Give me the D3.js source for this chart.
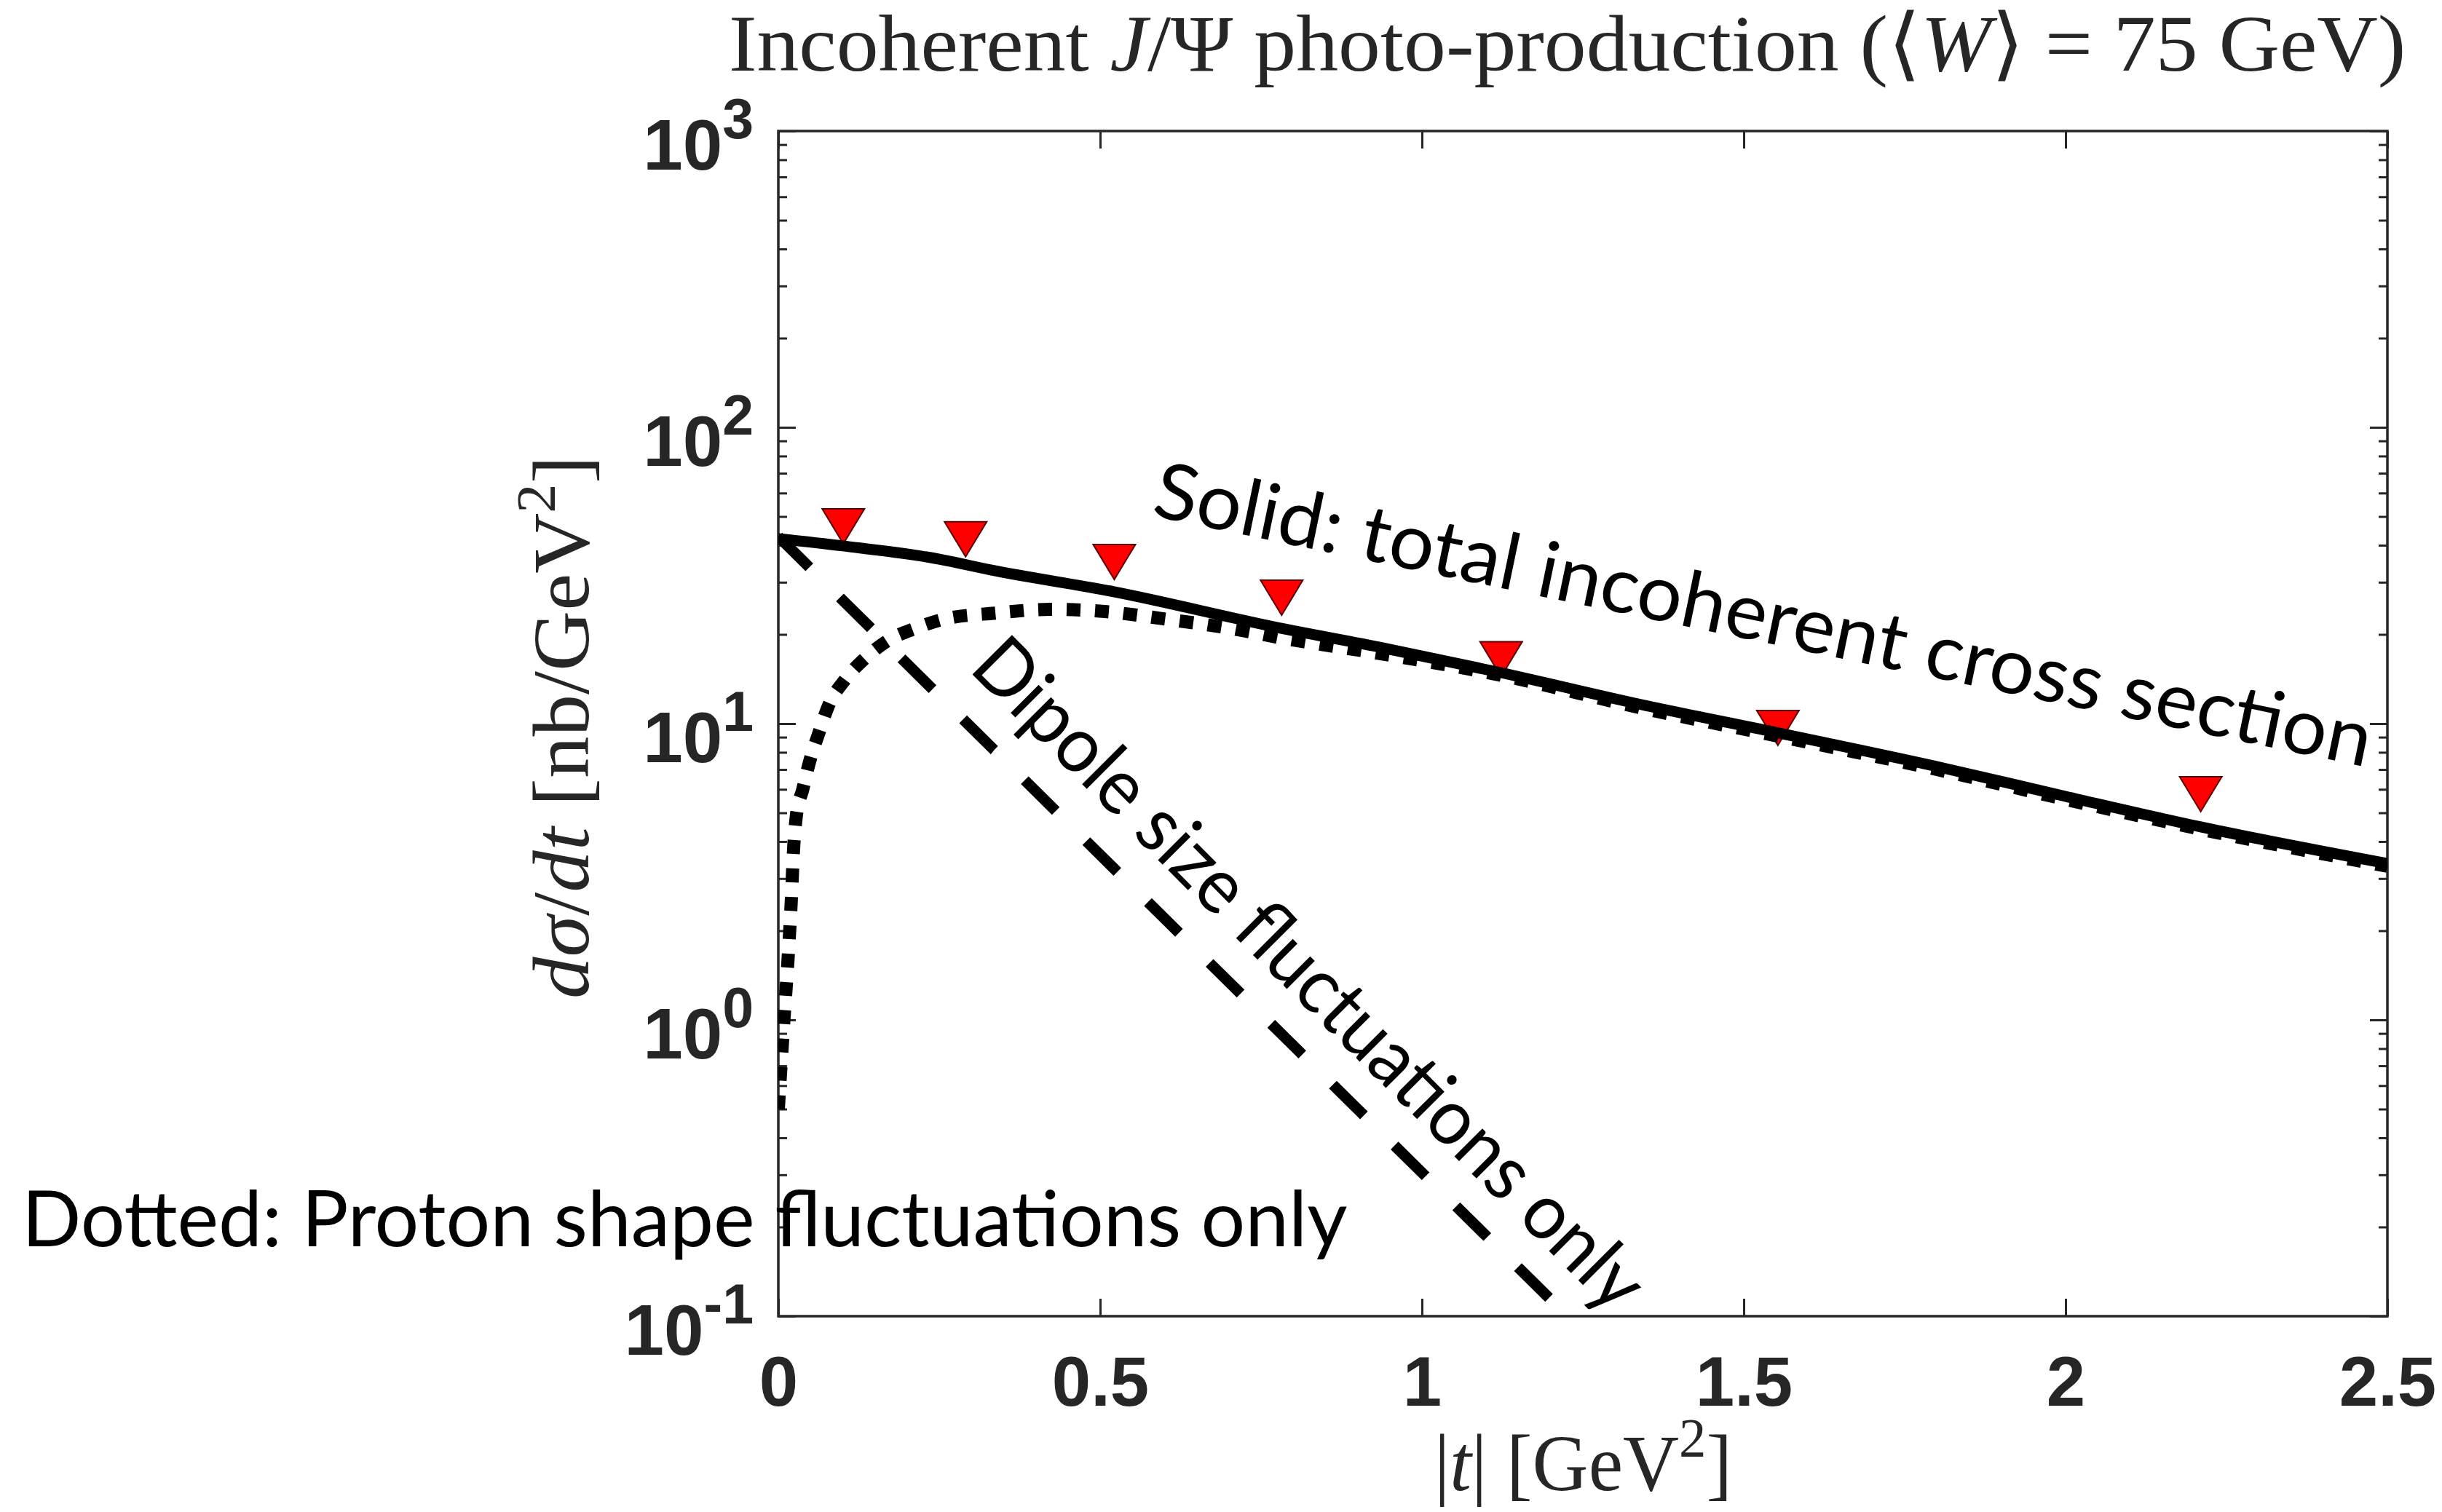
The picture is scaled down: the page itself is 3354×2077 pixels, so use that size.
<!DOCTYPE html>
<html>
<head>
<meta charset="utf-8">
<script src="https://cdn.jsdelivr.net/npm/d3@7"></script>
<style>
  html, body { margin: 0; padding: 0; background: #fff; }
  svg { display: block; }
</style>
</head>
<body>
<div id="chart"></div>
<script>
// values: |t| in GeV^2, dsigma/dt in nb/GeV^2
const solidT   = [0, 0.1, 0.25, 0.33, 0.52, 0.78, 0.94, 1.12, 1.34, 1.55, 1.8, 2.0, 2.21, 2.5];
const solidVal = [42.1, 39.8, 35.9, 33.0, 27.9, 21.0, 18.0, 14.9, 11.6, 9.34, 7.16, 5.68, 4.48, 3.37];

const dottedT   = [0, 0.009, 0.015, 0.02, 0.024, 0.028, 0.038, 0.049, 0.063, 0.078, 0.104, 0.136, 0.169, 0.214,
                   0.26, 0.337, 0.422, 0.507, 0.597, 0.70, 0.785, 0.93, 1.12, 1.34, 1.55, 1.8, 2.0, 2.21, 2.5];
const dottedVal = [0.5, 1.02, 1.59, 2.49, 3.87, 4.88, 6.0, 7.5, 9.3, 11.5, 14.1, 16.7, 19.0, 21.0,
                   22.6, 23.6, 24.3, 23.9, 22.6, 21.0, 19.4, 17.3, 14.6, 11.3, 9.1, 7.0, 5.55, 4.4, 3.3];

const dashedT   = [0, 0.3, 0.6, 0.9, 1.25];
const dashedVal = [42.8, 9.7, 2.2, 0.5, 0.089];

// measured points (red triangles)
const dataT   = [0.101, 0.291, 0.522, 0.782, 1.123, 1.553, 2.21];
const dataVal = [46.3, 41.9, 35.1, 26.6, 16.5, 9.67, 5.78];

const xTicks      = [0, 0.5, 1, 1.5, 2, 2.5];
const xTickLabels = ["0", "0.5", "1", "1.5", "2", "2.5"];
const yDecades    = [0.1, 1, 10, 100, 1000];
const yExponents  = ["-1", "0", "1", "2", "3"];

const dottedNote = "Dotted: Proton shape fluctuations only";
const solidNote  = "Solid: total incoherent cross section";
const dipoleNote = "Dipole size fluctuations only";

const W = 3354, H = 2077;
const pL = 1069, pR = 3279, pT = 180, pB = 1808;
const axisColor = "#262626";
const tickFont = "'Liberation Sans', Arial, Helvetica, sans-serif";
const texFont = "'Liberation Serif', 'Times New Roman', serif";
const noteFont = "Lato, 'Open Sans', sans-serif";

const svg = d3.select("#chart").append("svg")
  .attr("width", W).attr("height", H)
  .attr("viewBox", [0, 0, W, H]);

svg.append("rect").attr("width", W).attr("height", H).attr("fill", "#fff");

const x = d3.scaleLinear().domain([0, 2.5]).range([pL, pR]);
const y = d3.scaleLog().domain([0.1, 1000]).range([pB, pT]);

// minor log ticks 2..9 in every decade
const yMinor = [];
yDecades.slice(0, -1).forEach(d => { for (let k = 2; k <= 9; k++) yMinor.push(d * k); });

function styleTicks(g) {
  g.select(".domain").remove();
  g.selectAll("line").attr("stroke", axisColor).attr("stroke-width", 3);
}

// bottom axis with labels
const gx = svg.append("g").attr("transform", `translate(0,${pB})`)
  .call(d3.axisBottom(x).tickValues(xTicks).tickSize(-24).tickSizeOuter(0).tickPadding(55)
    .tickFormat((d, i) => xTickLabels[i]));
styleTicks(gx);
gx.selectAll("text")
  .attr("font-family", tickFont).attr("font-size", 96).attr("font-weight", "bold").attr("fill", axisColor);

// top axis mirror
const gxt = svg.append("g").attr("transform", `translate(0,${pT})`)
  .call(d3.axisTop(x).tickValues(xTicks).tickSize(-24).tickSizeOuter(0).tickFormat(""));
styleTicks(gxt);

// left / right, major and minor
[[d3.axisLeft, pL], [d3.axisRight, pR]].forEach(([ax, px]) => {
  const gMaj = svg.append("g").attr("transform", `translate(${px},0)`)
    .call(ax(y).tickValues(yDecades).tickSize(-24).tickSizeOuter(0).tickFormat(""));
  styleTicks(gMaj);
  const gMin = svg.append("g").attr("transform", `translate(${px},0)`)
    .call(ax(y).tickValues(yMinor).tickSize(-12).tickSizeOuter(0).tickFormat(""));
  styleTicks(gMin);
});

// y tick labels 10^n
yDecades.forEach((v, i) => {
  const t = svg.append("text")
    .attr("x", 1035).attr("y", y(v) + 53)
    .attr("text-anchor", "end")
    .attr("font-family", tickFont).attr("font-weight", "bold").attr("fill", axisColor);
  t.append("tspan").attr("font-size", 98).text("10");
  t.append("tspan").attr("font-size", 77).attr("dy", -43).text(yExponents[i]);
});

// frame
svg.append("rect")
  .attr("x", pL).attr("y", pT).attr("width", pR - pL).attr("height", pB - pT)
  .attr("fill", "none").attr("stroke", axisColor).attr("stroke-width", 3.5);

svg.append("clipPath").attr("id", "plotclip")
  .append("rect").attr("x", pL).attr("y", pT).attr("width", pR - pL).attr("height", pB - pT);

// markers, downward triangles
svg.append("g").selectAll("path")
  .data(dataT.map((t, i) => [t, dataVal[i]]))
  .join("path")
  .attr("d", d => `M${x(d[0]) - 29},${y(d[1]) - 24}L${x(d[0]) + 29},${y(d[1]) - 24}L${x(d[0])},${y(d[1]) + 24}Z`)
  .attr("fill", "#ff0000").attr("stroke", "#5a0000").attr("stroke-width", 2);

// curves
const line = d3.line().x(d => x(d[0])).y(d => y(d[1])).curve(d3.curveMonotoneX);
const curves = svg.append("g").attr("clip-path", "url(#plotclip)");

curves.append("path")
  .datum(dashedT.map((t, i) => [t, dashedVal[i]]))
  .attr("d", line).attr("fill", "none").attr("stroke", "#000")
  .attr("stroke-width", 15).attr("stroke-dasharray", "60 59");

curves.append("path")
  .datum(dottedT.map((t, i) => [t, dottedVal[i]]))
  .attr("d", line).attr("fill", "none").attr("stroke", "#000")
  .attr("stroke-width", 18).attr("stroke-dasharray", "19 20");

curves.append("path")
  .datum(solidT.map((t, i) => [t, solidVal[i]]))
  .attr("d", line).attr("fill", "none").attr("stroke", "#000")
  .attr("stroke-width", 15).attr("stroke-linejoin", "round");

// LaTeX-like text helper, stretched to a measured width
function texText(parent, parts, size) {
  const txt = parent.append("text")
    .attr("font-family", texFont).attr("font-size", size).attr("fill", axisColor);
  let shift = 0;
  parts.forEach(p => {
    const ts = txt.append("tspan").text(p.t);
    if (p.it) ts.attr("font-style", "italic");
    const want = p.sup ? -0.42 * size : 0;
    if (want !== shift) { ts.attr("dy", want - shift); shift = want; }
    if (p.sup) ts.attr("font-size", size * 0.7);
  });
  return txt;
}
function fitText(txt, width) {
  const bb = txt.node().getBBox();
  txt.attr("x", -bb.x);
  return width / bb.width;
}

// title
const gTitle = svg.append("g");
const title = texText(gTitle, [
  { t: "Incoherent " }, { t: "J", it: true }, { t: "/Ψ photo-production (⟨" },
  { t: "W", it: true }, { t: "⟩ = 75 GeV)" }
], 110);
gTitle.attr("transform", `translate(1001,97) scale(${fitText(title, 2304)},1)`);

// x label
const gXL = svg.append("g");
const xl = texText(gXL, [{ t: "|" }, { t: "t", it: true }, { t: "| [GeV" }, { t: "2", sup: true }, { t: "]" }], 110);
gXL.attr("transform", `translate(1970,2047) scale(${fitText(xl, 409)},1)`);

// y label
const gYL = svg.append("g");
const yl = texText(gYL, [
  { t: "dσ", it: true }, { t: "/" }, { t: "dt", it: true }, { t: " [nb/GeV" }, { t: "2", sup: true }, { t: "]" }
], 110);
gYL.attr("transform", `translate(808,1372) rotate(-90) scale(${fitText(yl, 746)},1)`);

// annotations, font size calibrated on the horizontal note
const probe = svg.append("text").attr("font-family", noteFont)
  .attr("font-size", 100).text(dottedNote);
const noteSize = 100 * 1821 / probe.node().getComputedTextLength();
probe.remove();

function note(str, tx, ty, angle, len) {
  const t = svg.append("text")
    .attr("transform", `translate(${tx},${ty}) rotate(${angle})`)
    .attr("font-family", noteFont)
    .attr("font-size", noteSize).attr("fill", "#000")
    .text(str);
  if (len) t.attr("textLength", len).attr("lengthAdjust", "spacingAndGlyphs");
}
note(solidNote, 1580, 708, 11.7, 1705);
note(dipoleNote, 1329, 920, 45, 1255);
note(dottedNote, 30, 1712, 0);
</script>
</body>
</html>
